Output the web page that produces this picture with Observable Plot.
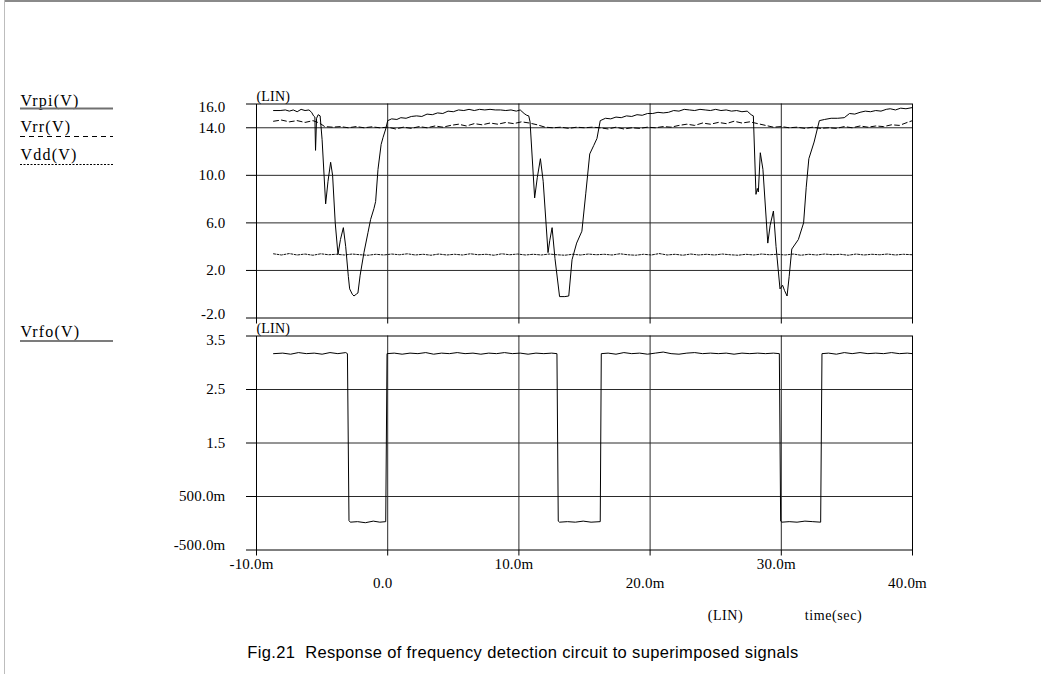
<!DOCTYPE html>
<html>
<head>
<meta charset="utf-8">
<script src="https://cdn.jsdelivr.net/npm/d3@7"></script>
<script src="https://cdn.jsdelivr.net/npm/@observablehq/plot@0.6"></script>
<style>
  html, body { margin: 0; padding: 0; background: #fff; }
  #page { position: relative; width: 1041px; height: 674px; overflow: hidden; background: #fff; }
  #page svg { position: absolute; left: 0; }
  #page svg text { letter-spacing: 0.2px; }
  #overlay text { font-family: 'Liberation Serif', 'Times New Roman', serif; }
</style>
</head>
<body>
<div id="page"></div>
<script>
// ---------- data (time in ms) ----------
const xTicks = [-10, 0, 10, 20, 30, 40];
const xGrid = [0, 10, 20, 30];
const xLabelsRow1 = [-10, 10, 30];
const xLabelsRow2 = [0, 20, 40];
const topTicks = [16, 14, 10, 6, 2, -2];
const topGridY = [14, 10, 6, 2];
const botTicks = [3.5, 2.5, 1.5, 0.5, -0.5];
const botGridY = [2.5, 1.5, 0.5];
const seriesNames = ["Vrpi(V)", "Vrr(V)", "Vdd(V)", "Vrfo(V)"];

const vrpi = [
  [-8.7,15.45],[-8.2,15.45],[-7.8,15.5],[-7.5,15.4],[-7.2,15.5],[-6.9,15.35],[-6.6,15.55],[-6.3,15.45],[-6.0,15.5],
  [-5.8,15.3],[-5.65,15.0],[-5.55,14.9],[-5.5,12.1],[-5.42,14.8],[-5.3,15.1],[-5.15,15.0],[-5.0,13.0],[-4.73,7.6],
  [-4.55,9.5],[-4.35,11.1],[-4.2,10.0],[-4.0,6.0],[-3.79,3.35],[-3.6,4.6],[-3.38,5.6],[-3.2,4.0],[-3.0,1.5],[-2.9,0.45],
  [-2.7,0.0],[-2.57,-0.15],[-2.4,0.0],[-2.27,0.1],[-2.1,1.6],[-1.81,3.5],[-1.5,5.2],[-1.3,6.3],[-1.05,7.2],[-0.92,7.8],
  [-0.74,10.5],[-0.5,12.6],[-0.35,13.2],[-0.15,13.9],[0.0,14.6],[0.3,14.75],[0.7,14.7],[1.0,14.85],[1.4,14.8],[1.8,14.95],
  [2.2,15.0],[2.6,14.95],[3.0,15.15],[3.4,15.1],[3.8,15.25],[4.2,15.2],[4.6,15.4],[5.0,15.35],[5.4,15.5],[5.8,15.45],
  [6.2,15.55],[6.6,15.45],[7.0,15.55],[7.4,15.5],[7.8,15.55],[8.2,15.5],[8.6,15.5],[9.0,15.45],[9.4,15.5],[9.8,15.4],
  [10.1,15.5],[10.4,15.2],[10.6,15.05],[10.75,15.0],[10.85,14.5],[11.2,8.1],[11.4,9.8],[11.64,11.4],[11.85,9.5],[12.22,3.5],
  [12.35,4.5],[12.53,5.6],[12.75,3.0],[13.1,-0.2],[13.5,-0.2],[13.8,-0.15],[14.05,2.9],[14.4,4.3],[14.8,5.3],[15.1,8.5],
  [15.4,11.8],[15.7,12.5],[15.95,13.1],[16.2,14.6],[16.6,14.8],[17.0,14.75],[17.4,14.9],[17.8,14.85],[18.2,15.0],[18.6,14.95],
  [19.0,15.1],[19.4,15.05],[19.8,15.2],[20.2,15.2],[20.6,15.3],[21.0,15.25],[21.4,15.3],[21.8,15.45],[22.2,15.4],[22.6,15.55],
  [23.0,15.5],[23.4,15.45],[23.8,15.55],[24.2,15.5],[24.6,15.45],[25.0,15.55],[25.4,15.45],[25.8,15.5],[26.2,15.4],[26.6,15.45],
  [27.0,15.35],[27.4,15.4],[27.7,15.1],[27.87,15.0],[28.07,8.4],[28.17,8.9],[28.25,8.6],[28.4,11.9],[28.6,10.5],[28.97,4.3],
  [29.15,5.8],[29.4,7.0],[29.6,4.0],[29.9,0.45],[30.1,0.75],[30.25,0.3],[30.44,-0.15],[30.6,1.5],[30.8,3.8],[31.3,4.6],
  [31.7,6.0],[31.9,9.0],[32.1,11.4],[32.5,12.8],[32.9,14.6],[33.3,14.7],[33.8,14.8],[34.3,14.8],[34.8,14.85],[35.2,15.2],
  [35.6,15.15],[36.0,15.3],[36.4,15.4],[36.8,15.35],[37.2,15.45],[37.6,15.4],[38.0,15.55],[38.3,15.6],[38.7,15.5],[39.1,15.65],
  [39.5,15.6],[40.0,15.7]
];

const vrr = [
  [-8.7,14.55],[-8.1,14.65],[-7.5,14.5],[-6.9,14.6],[-6.3,14.45],[-5.7,14.6],[-5.2,14.4],[-4.8,14.1],[-4.2,14.05],[-3.6,14.1],
  [-3.0,14.0],[-2.4,14.1],[-1.8,14.0],[-1.2,14.08],[-0.6,14.0],[0.0,14.05],[0.6,13.9],[1.2,14.05],[1.8,13.95],[2.4,14.1],
  [3.0,14.0],[3.6,14.15],[4.2,14.05],[4.8,14.2],[5.4,14.3],[6.0,14.15],[6.6,14.35],[7.2,14.25],[7.8,14.4],[8.4,14.3],
  [9.0,14.45],[9.6,14.35],[10.2,14.5],[10.8,14.4],[11.4,14.25],[12.0,14.05],[12.6,14.0],[13.2,14.05],[13.8,13.95],[14.4,14.05],
  [15.0,14.0],[15.6,14.05],[16.2,14.0],[16.8,13.9],[17.4,14.05],[18.0,13.9],[18.6,14.0],[19.2,13.95],[19.8,14.05],[20.4,14.0],
  [21.0,14.1],[21.6,14.05],[22.2,14.2],[22.8,14.3],[23.4,14.2],[24.0,14.4],[24.6,14.3],[25.2,14.45],[25.8,14.35],[26.4,14.55],
  [27.0,14.4],[27.6,14.5],[28.2,14.35],[28.8,14.2],[29.4,14.05],[30.0,14.1],[30.6,14.0],[31.2,14.05],[31.8,13.95],[32.4,14.05],
  [33.0,13.95],[33.6,14.0],[34.2,13.95],[34.8,14.1],[35.4,14.0],[36.0,14.15],[36.6,14.05],[37.2,14.15],[37.8,14.1],[38.4,14.25],
  [39.0,14.2],[39.6,14.45],[40.0,14.6]
];

const vdd = [
  [-8.7,3.4],[-8.1,3.3],[-7.5,3.42],[-6.9,3.3],[-6.3,3.38],[-5.7,3.28],[-5.1,3.4],[-4.5,3.32],[-3.9,3.36],[-3.3,3.3],
  [-2.7,3.38],[-2.1,3.32],[-1.5,3.28],[-0.9,3.36],[-0.3,3.3],[0.3,3.38],[0.9,3.32],[1.5,3.4],[2.1,3.3],[2.7,3.36],
  [3.3,3.28],[3.9,3.38],[4.5,3.3],[5.1,3.36],[5.7,3.3],[6.3,3.4],[6.9,3.32],[7.5,3.36],[8.1,3.28],[8.7,3.4],
  [9.3,3.32],[9.9,3.38],[10.5,3.3],[11.1,3.36],[11.7,3.3],[12.3,3.38],[12.9,3.32],[13.5,3.28],[14.1,3.36],[14.7,3.3],
  [15.3,3.38],[15.9,3.32],[16.5,3.36],[17.1,3.3],[17.7,3.4],[18.3,3.32],[18.9,3.28],[19.5,3.36],[20.1,3.3],[20.7,3.42],
  [21.3,3.3],[21.9,3.36],[22.5,3.28],[23.1,3.38],[23.7,3.3],[24.3,3.36],[24.9,3.3],[25.5,3.38],[26.1,3.32],[26.7,3.28],
  [27.3,3.36],[27.9,3.3],[28.5,3.38],[29.1,3.32],[29.7,3.36],[30.3,3.3],[30.9,3.38],[31.5,3.28],[32.1,3.36],[32.7,3.3],
  [33.3,3.38],[33.9,3.32],[34.5,3.36],[35.1,3.28],[35.7,3.38],[36.3,3.3],[36.9,3.36],[37.5,3.32],[38.1,3.38],[38.7,3.3],
  [39.3,3.36],[40.0,3.32]
];

const vrfo = [
  [-8.7,3.17],[-8.0,3.18],[-7.4,3.16],[-6.8,3.19],[-6.2,3.17],[-5.6,3.18],[-5.0,3.16],[-4.4,3.19],[-3.8,3.17],[-3.2,3.19],
  [-3.07,3.17],[-2.95,0.05],[-2.85,0.02],[-2.3,0.03],[-1.7,0.01],[-1.1,0.04],[-0.6,0.02],[-0.15,0.03],[-0.05,3.17],[0.5,3.18],
  [1.1,3.16],[1.7,3.18],[2.3,3.17],[2.9,3.19],[3.5,3.16],[4.1,3.18],[4.7,3.17],[5.3,3.19],[5.9,3.17],[6.5,3.18],
  [7.1,3.16],[7.7,3.18],[8.3,3.17],[8.9,3.19],[9.5,3.17],[10.1,3.18],[10.7,3.16],[11.3,3.18],[11.9,3.17],[12.5,3.18],
  [12.9,3.17],[13.0,0.04],[13.1,0.02],[13.7,0.03],[14.3,0.02],[14.9,0.04],[15.5,0.02],[16.2,0.03],[16.28,3.17],[16.8,3.18],
  [17.4,3.16],[18.0,3.19],[18.6,3.17],[19.2,3.18],[19.8,3.16],[20.4,3.18],[21.0,3.2],[21.6,3.17],[22.2,3.16],[22.8,3.18],
  [23.4,3.19],[24.0,3.17],[24.6,3.18],[25.2,3.17],[25.8,3.18],[26.4,3.16],[27.0,3.18],[27.6,3.17],[28.2,3.18],[28.8,3.17],
  [29.4,3.18],[29.85,3.17],[29.95,0.04],[30.05,0.02],[30.6,0.03],[31.2,0.02],[31.8,0.04],[32.4,0.03],[33.0,0.02],[33.1,3.17],
  [33.6,3.18],[34.2,3.16],[34.8,3.19],[35.4,3.17],[36.0,3.19],[36.6,3.17],[37.2,3.18],[37.8,3.17],[38.4,3.19],[39.0,3.17],
  [39.6,3.18],[40.0,3.17]
];

// ---------- helpers ----------
const fmtX = v => v === 0 ? "0.0" : v.toFixed(1) + "m";
const fmtTop = v => v.toFixed(1);
const fmtBot = v => Math.abs(v) < 1 ? (v * 1000).toFixed(1) + "m" : v.toFixed(1);
const X = d => d[0], Y = d => d[1];
const baseStyle = {
  fontFamily: "'Liberation Serif', 'Times New Roman', serif",
  fontSize: "15px",
  background: "transparent",
  overflow: "visible",
  color: "black"
};
const GRID = "#2a2a2a";

// ---------- top panel ----------
const topPlot = Plot.plot({
  width: 1041, height: 330,
  marginLeft: 256, marginRight: 129, marginTop: 103.5, marginBottom: 12.5,
  x: {domain: [-10, 40], axis: null},
  y: {domain: [-2, 16], axis: null},
  style: baseStyle,
  marks: [
    Plot.ruleX(xGrid, {stroke: GRID, strokeWidth: 1}),
    Plot.ruleY(topGridY, {stroke: GRID, strokeWidth: 1}),
    Plot.line(vdd, {x: X, y: Y, stroke: "#111", strokeWidth: 1, strokeDasharray: "2,1.5"}),
    Plot.line(vrr, {x: X, y: Y, stroke: "#000", strokeWidth: 1, strokeDasharray: "5,3"}),
    Plot.line(vrpi, {x: X, y: Y, stroke: "#000", strokeWidth: 1}),
    Plot.frame({stroke: "black"}),
    Plot.axisY({ticks: topTicks, anchor: "left", tickSize: 10, tickFormat: () => "", label: null}),
    Plot.axisX({ticks: xTicks, anchor: "bottom", tickSize: 6, tickFormat: () => "", label: null}),
    Plot.text(topTicks.slice(1, 5), {y: d => d, frameAnchor: "left", dx: -31, textAnchor: "end", text: fmtTop}),
    Plot.text(topTicks.slice(0, 1), {y: d => d, frameAnchor: "left", dx: -31, dy: 3.5, textAnchor: "end", text: fmtTop}),
    Plot.text(topTicks.slice(5), {y: d => d, frameAnchor: "left", dx: -31, dy: -4, textAnchor: "end", text: fmtTop}),
    Plot.text(["(LIN)"], {frameAnchor: "top-left", text: d => d, textAnchor: "start", lineAnchor: "bottom", dy: -3, fontSize: 14})
  ]
});
topPlot.style.top = "0px";

// ---------- bottom panel ----------
const botPlot = Plot.plot({
  width: 1041, height: 290,
  marginLeft: 256, marginRight: 129, marginTop: 5.5, marginBottom: 70.5,
  x: {domain: [-10, 40], axis: null},
  y: {domain: [-0.5, 3.5], axis: null},
  style: baseStyle,
  marks: [
    Plot.ruleX(xGrid, {stroke: GRID, strokeWidth: 1}),
    Plot.ruleY(botGridY, {stroke: GRID, strokeWidth: 1}),
    Plot.line(vrfo, {x: X, y: Y, stroke: "#000", strokeWidth: 1}),
    Plot.frame({stroke: "black"}),
    Plot.axisY({ticks: botTicks, anchor: "left", tickSize: 10, tickFormat: () => "", label: null}),
    Plot.axisX({ticks: xTicks, anchor: "bottom", tickSize: 6, tickFormat: () => "", label: null}),
    Plot.text(botTicks.slice(1, 4), {y: d => d, frameAnchor: "left", dx: -31, textAnchor: "end", text: fmtBot}),
    Plot.text(botTicks.slice(0, 1), {y: d => d, frameAnchor: "left", dx: -31, dy: 4, textAnchor: "end", text: fmtBot}),
    Plot.text(botTicks.slice(4), {y: d => d, frameAnchor: "left", dx: -31, dy: -4.5, textAnchor: "end", text: fmtBot}),
    Plot.text(xLabelsRow1, {x: d => d, frameAnchor: "bottom", dy: 18.5, dx: -5, text: fmtX}),
    Plot.text(xLabelsRow2, {x: d => d, frameAnchor: "bottom", dy: 37.5, dx: -5, text: fmtX}),
    Plot.text(["(LIN)"], {frameAnchor: "top-left", text: d => d, textAnchor: "start", lineAnchor: "bottom", dy: -3, fontSize: 14})
  ]
});
botPlot.style.top = "330px";

const page = document.getElementById("page");
page.appendChild(topPlot);
page.appendChild(botPlot);

// ---------- overlay: legend, axis caption, figure caption, border ----------
const ov = d3.create("svg").attr("id", "overlay")
  .attr("width", 1041).attr("height", 674)
  .style("top", "0px").style("pointer-events", "none");

ov.append("line").attr("x1", 4).attr("x2", 1041).attr("y1", 1).attr("y2", 1)
  .attr("stroke", "#8a8a8a").attr("stroke-width", 2);
ov.append("line").attr("x1", 4.5).attr("x2", 4.5).attr("y1", 0).attr("y2", 674)
  .attr("stroke", "#bdbdbd").attr("stroke-width", 1);

const legend = [
  {name: seriesNames[0], ty: 105.5, ly: 108.5, stroke: "#707070", w: 2, dash: null},
  {name: seriesNames[1], ty: 131.5, ly: 136.5, stroke: "#000", w: 1, dash: "5,4"},
  {name: seriesNames[2], ty: 160, ly: 164.5, stroke: "#000", w: 1, dash: "2,1.5"},
  {name: seriesNames[3], ty: 337, ly: 341, stroke: "#505050", w: 1.6, dash: null}
];
for (const l of legend) {
  ov.append("text").attr("x", 20.5).attr("y", l.ty)
    .style("font-size", "16px").style("letter-spacing", "1.2px").text(l.name);
  const ln = ov.append("line").attr("x1", 20).attr("x2", 113).attr("y1", l.ly).attr("y2", l.ly)
    .attr("stroke", l.stroke).attr("stroke-width", l.w);
  if (l.dash) ln.attr("stroke-dasharray", l.dash);
}

ov.append("text").attr("x", 725.5).attr("y", 620).attr("text-anchor", "middle")
  .style("font-size", "14px").style("letter-spacing", "0.6px").text("(LIN)");
ov.append("text").attr("x", 833.5).attr("y", 620).attr("text-anchor", "middle")
  .style("font-size", "14px").style("letter-spacing", "0.6px").text("time(sec)");

ov.append("text").attr("x", 523).attr("y", 658).attr("text-anchor", "middle")
  .style("font-family", "'Liberation Sans', Arial, sans-serif")
  .style("font-size", "16.5px").style("letter-spacing", "0.35px").style("white-space", "pre")
  .text("Fig.21  Response of frequency detection circuit to superimposed signals");

page.appendChild(ov.node());
</script>
</body>
</html>
